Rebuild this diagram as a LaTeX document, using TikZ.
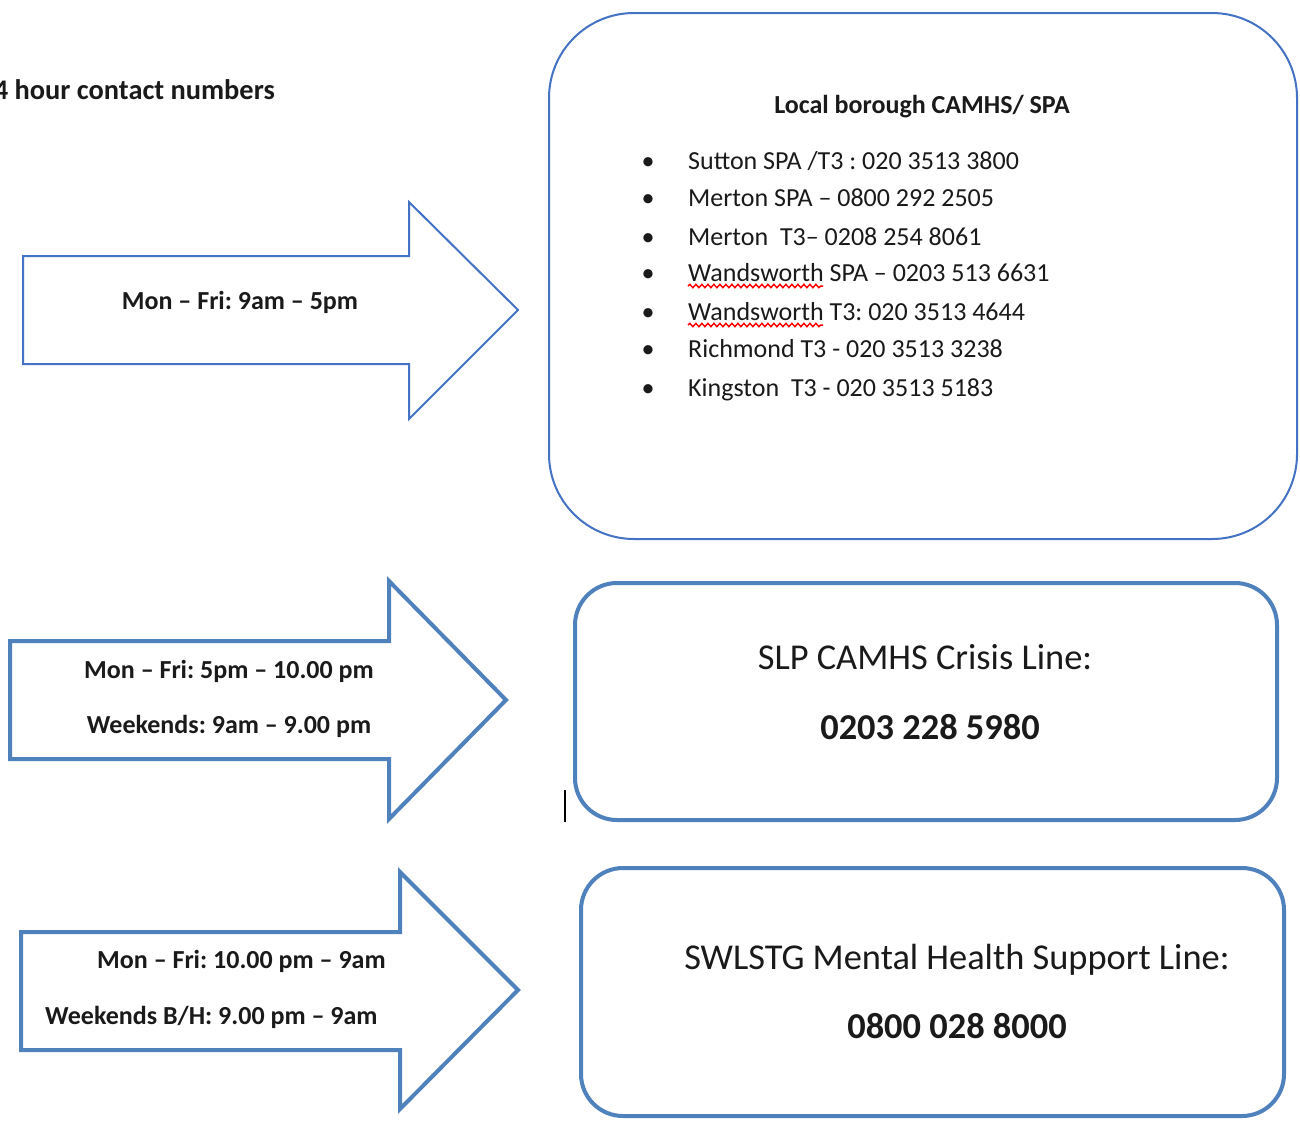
\documentclass[tikz,border=0pt]{standalone}
\usepackage{fontspec}
\setmainfont{Carlito}
\frenchspacing
\usetikzlibrary{decorations.pathmorphing}
\definecolor{lineA}{HTML}{4472C4}
\definecolor{lineB}{HTML}{4F81BD}
\definecolor{txt}{HTML}{1A1A1A}
\tikzset{
  thinbox/.style={draw=lineA, line width=2pt, rounded corners=85pt},
  thickbox/.style={draw=lineB, line width=4pt, rounded corners=42pt},
  thinarrow/.style={draw=lineA, line width=2pt, line join=miter, fill=white},
  thickarrow/.style={draw=lineB, line width=4pt, line join=miter, fill=white},
  small/.style={font=\fontsize{26}{31}\selectfont, inner sep=0pt, text=txt},
  smallb/.style={font=\fontsize{26}{31}\selectfont\bfseries, inner sep=0pt, text=txt},
  titleb/.style={font=\fontsize{28.4}{34}\selectfont\bfseries, inner sep=0pt, text=txt},
  big/.style={font=\fontsize{36.4}{44}\selectfont, inner sep=0pt, text=txt},
  bigb/.style={font=\fontsize{36.4}{44}\selectfont\bfseries, inner sep=0pt, text=txt},
  squiggle/.style={draw=red, line width=1.5pt, decorate, decoration={snake, segment length=6pt, amplitude=1.6pt}}
}
\begin{document}
\begin{tikzpicture}[x=1pt, y=-1pt]
\useasboundingbox (0,0) rectangle (1300,1120);
\fill[white] (0,0) rectangle (1300,1120);

% title
\node[titleb, anchor=base east] (title) at (275,99) {24 hour contact numbers};

% box 1
\draw[thinbox] (549,13) rectangle (1297,539);
\coordinate (box1) at (923,276);
\node[smallb, anchor=base] (head1) at (922,113) {Local borough CAMHS/ SPA};
\foreach \y/\t [count=\i] in {169/{Sutton SPA /T3 : 020 3513 3800},
                  206/{Merton SPA – 0800 292 2505},
                  245/{Merton\ \ T3– 0208 254 8061},
                  281/{Wandsworth SPA – 0203 513 6631},
                  320/{Wandsworth T3: 020 3513 4644},
                  357/{Richmond T3 - 020 3513 3238},
                  396/{Kingston\ \ T3 - 020 3513 5183}}{
  \node[small, anchor=base] (bul\i) at (648,\y) {•};
  \node[small, anchor=base west] (item\i) at (688,\y) {\t};
}
\draw[squiggle] (688,286) -- (823,286);
\draw[squiggle] (688,325) -- (823,325);

% arrow 1
\draw[thinarrow] (23,256) -- (409,256) -- (409,202) -- (518,310) -- (409,419) -- (409,364) -- (23,364) -- cycle;
\node[smallb, anchor=base] (a1) at (240,309) {Mon – Fri: 9am – 5pm};

% box 2
\draw[thickbox] (575,583) rectangle (1277,820);
\node[big, anchor=base] (crisis) at (925,669) {SLP CAMHS Crisis Line:};
\node[bigb, anchor=base] (crisisnum) at (930,739) {0203 228 5980};

% arrow 2
\draw[thickarrow] (10,641) -- (389,641) -- (389,581) -- (506,700) -- (389,819) -- (389,759) -- (10,759) -- cycle;
\node[smallb, anchor=base] (a2a) at (229,678) {Mon – Fri: 5pm – 10.00 pm};
\node[smallb, anchor=base] (a2b) at (229,733) {Weekends: 9am – 9.00 pm};

% cursor
\draw[line width=1.6pt, black] (565,790) -- (565,822);

% box 3
\draw[thickbox] (581,868) rectangle (1284,1116);
\node[big, anchor=base] (sw) at (957,969) {SWLSTG Mental Health Support Line:};
\node[bigb, anchor=base] (swnum) at (957,1038) {0800 028 8000};

% arrow 3
\draw[thickarrow] (21,932) -- (400,932) -- (400,872) -- (518,990) -- (400,1109) -- (400,1050) -- (21,1050) -- cycle;
\node[smallb, anchor=base west] (a3a) at (97,968) {Mon – Fri: 10.00 pm – 9am};
\node[smallb, anchor=base west] (a3b) at (45,1024) {Weekends B/H: 9.00 pm – 9am};
\end{tikzpicture}
\end{document}
